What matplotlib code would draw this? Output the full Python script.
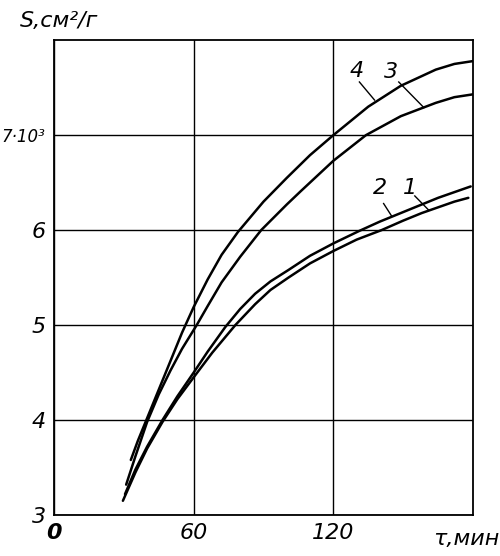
"""
Specific surface S of powder versus grinding time, curves 1-4.
Recreated from a scanned chart.
"""
import matplotlib
matplotlib.use("Agg")
import matplotlib.pyplot as plt

# curve data: time (min) and S (x10^3 cm2/g)
t1 = [29.6, 35, 40, 46.6, 53, 60, 68, 77.9, 86.4, 93, 100.7, 110, 120, 130, 140.7, 150, 158, 165, 172, 178]
s1 = [3.15, 3.45, 3.70, 3.98, 4.22, 4.45, 4.71, 5.00, 5.22, 5.37, 5.50, 5.65, 5.78, 5.90, 6.00, 6.10, 6.18, 6.24, 6.30, 6.34]

t2 = [30.5, 35, 40, 46.6, 53, 60, 66, 73.6, 80, 86.4, 93, 100.7, 110, 120, 131, 140, 150, 158, 165, 172, 179]
s2 = [3.22, 3.48, 3.72, 4.00, 4.25, 4.50, 4.72, 4.98, 5.17, 5.33, 5.46, 5.58, 5.73, 5.86, 5.99, 6.09, 6.19, 6.27, 6.34, 6.40, 6.46]

t3 = [31, 35, 40, 45, 50, 55, 61.3, 66, 72, 80, 89, 100, 106, 120, 134, 149, 164, 172, 180]
s3 = [3.32, 3.62, 3.98, 4.27, 4.52, 4.75, 5.00, 5.20, 5.45, 5.72, 6.00, 6.27, 6.41, 6.73, 7.00, 7.20, 7.34, 7.40, 7.43]

t4 = [33, 36, 40, 45, 50, 55, 60, 66, 72, 79, 90, 100, 110, 120, 135, 149, 164, 172, 180]
s4 = [3.58, 3.78, 4.02, 4.32, 4.62, 4.92, 5.19, 5.48, 5.74, 5.98, 6.30, 6.55, 6.79, 7.00, 7.30, 7.52, 7.69, 7.75, 7.78]

curves = [("1", t1, s1), ("2", t2, s2), ("3", t3, s3), ("4", t4, s4)]

# curve numbers: label position and leader line (from, to)
label_pos = {"4": (130, 7.68), "3": (144.6, 7.66), "2": (139.9, 6.44), "1": (152.8, 6.44)}
leaders = {"4": ((131.2, 7.56), (137.7, 7.37)),
           "3": ((148.1, 7.56), (158.9, 7.29)),
           "2": ((141.6, 6.28), (145.0, 6.15)),
           "1": ((155.0, 6.36), (161.0, 6.21))}

x_ticks = [0, 60, 120]
x_labels = ["0", "60", "120"]
y_ticks = [3, 4, 5, 6, 7]
y_labels = ["3", "4", "5", "6", "7·10³"]


def main():
    fig = plt.figure(figsize=(5.0, 5.56), dpi=100)
    ax = fig.add_axes([0.108, 0.0737, 0.838, 0.854])

    for name, t, s in curves:
        ax.plot(t, s, color="black", linewidth=1.8, solid_capstyle="round")

    for name, (x, y) in label_pos.items():
        ax.text(x, y, name, fontsize=16, style="italic",
                ha="center", va="center")
        (xa, ya), (xb, yb) = leaders[name]
        ax.plot([xa, xb], [ya, yb], color="black", linewidth=1.0)

    ax.set_xlim(0, 180)
    ax.set_ylim(3, 8)
    ax.set_xticks(x_ticks)
    ax.set_yticks(y_ticks)
    ax.set_xticklabels(x_labels, fontsize=16, style="italic")
    ax.set_yticklabels(y_labels, fontsize=16, style="italic")
    ax.tick_params(length=0, pad=6)
    ax.get_xticklabels()[0].set_fontweight("bold")
    # the long top label is squeezed so it fits left of the frame
    ax.get_yticklabels()[-1].set_fontsize(12)

    ax.grid(True, color="black", linewidth=1.0)
    for sp in ax.spines.values():
        sp.set_linewidth(1.3)

    fig.text(0.04, 0.962, "S,см²/г", fontsize=16, style="italic",
             ha="left", va="center")
    fig.text(0.998, 0.03, "τ,мин", fontsize=16, style="italic",
             ha="right", va="center")

    fig.savefig("out.png", dpi=100)


if __name__ == "__main__":
    main()
